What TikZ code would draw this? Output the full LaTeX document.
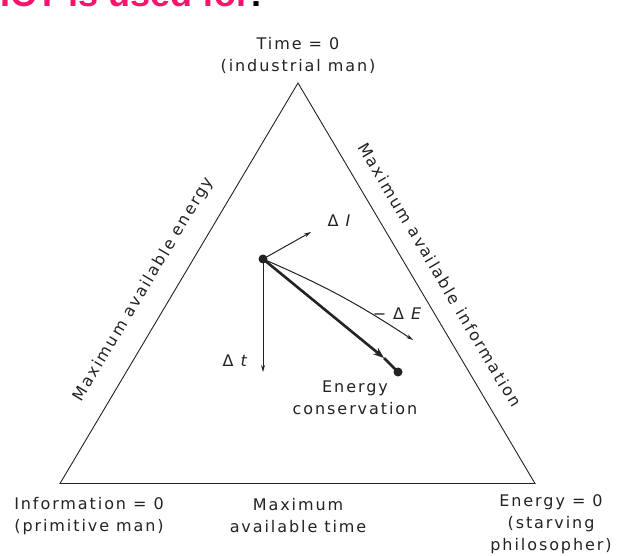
\documentclass[tikz,border=0pt]{standalone}
\usepackage{fontspec}
\setsansfont[LetterSpace=12]{DejaVu Sans}
\newfontfamily\slidefont{Liberation Sans}
\usepackage{xcolor}
\definecolor{slidered}{RGB}{250, 20, 110}
\definecolor{inkgray}{RGB}{35, 35, 35}
\usetikzlibrary{arrows.meta, positioning, calc}

\begin{document}
\begin{tikzpicture}[x=1pt, y=1pt, >={Stealth[length=7pt, width=4pt]},
    txt/.style={font=\sffamily\fontsize{16}{22}\selectfont, text=inkgray, align=center, inner sep=0pt},
    dot/.style={circle, fill=inkgray, inner sep=0pt, minimum size=9pt},
    vec/.style={->, line width=1pt, inkgray}]
    \useasboundingbox (0, 0) rectangle (621, 555);
    \fill[white] (0, 0) rectangle (621, 555);

    % slide heading, cut at the top
    \node[anchor=base west, inner sep=0pt, text=slidered, font=\slidefont\bfseries\fontsize{36}{36}\selectfont] (heading) at (0, 548) {ICT is used for\textcolor{black}{:}};

    % corners of the triangle
    \coordinate (top) at (298, 472);
    \coordinate (left) at (60, 71.5);
    \coordinate (right) at (535, 71.5);
    \draw[line width=0.9pt, inkgray] (left)
        -- node[txt, sloped, pos=0.45, above=19pt] (edgeE) {Maximum available energy} (top)
        -- node[txt, sloped, pos=0.51, above=18pt] (edgeI) {Maximum available information} (right)
        -- cycle;

    \node[txt] (timezero) at (298, 500) {Time = 0\\(industrial man)};
    \node[txt] (infozero) at (89, 39) {Information = 0\\(primitive man)};
    \node[txt] (maxtime) at (298, 39) {Maximum\\available time};
    \node[txt] (energyzero) at (551, 31) {Energy = 0\\(starving\\philosopher)};

    % present state and its shifts
    \node[dot] (now) at (263, 296) {};
    \node[dot] (cons) at (398, 183) {};
    \coordinate (dI) at (311, 323);
    \coordinate (dt) at (263, 183);
    \coordinate (dE) at (413, 215);
    \coordinate (tip) at (384, 197);

    \draw[vec] (now.center) -- (dI);
    \draw[vec] (now.center) -- (dt);
    \draw[vec] (now.center) to[bend left=5] (dE);
    \draw[vec, line width=2.6pt, >={Stealth[length=11pt, width=8pt]}] (now.center) -- (tip);
    \draw[line width=2.6pt, inkgray] (tip) -- (cons.center);

    \node[txt] (labI) at (340, 334) {Δ \textit{I}};
    \node[txt] (labt) at (236, 194) {Δ \textit{t}};
    \node[txt] (labE) at (398, 241) {− Δ \textit{E}};
    \node[txt] (labcons) at (355, 157) {Energy\\conservation};
\end{tikzpicture}
\end{document}
